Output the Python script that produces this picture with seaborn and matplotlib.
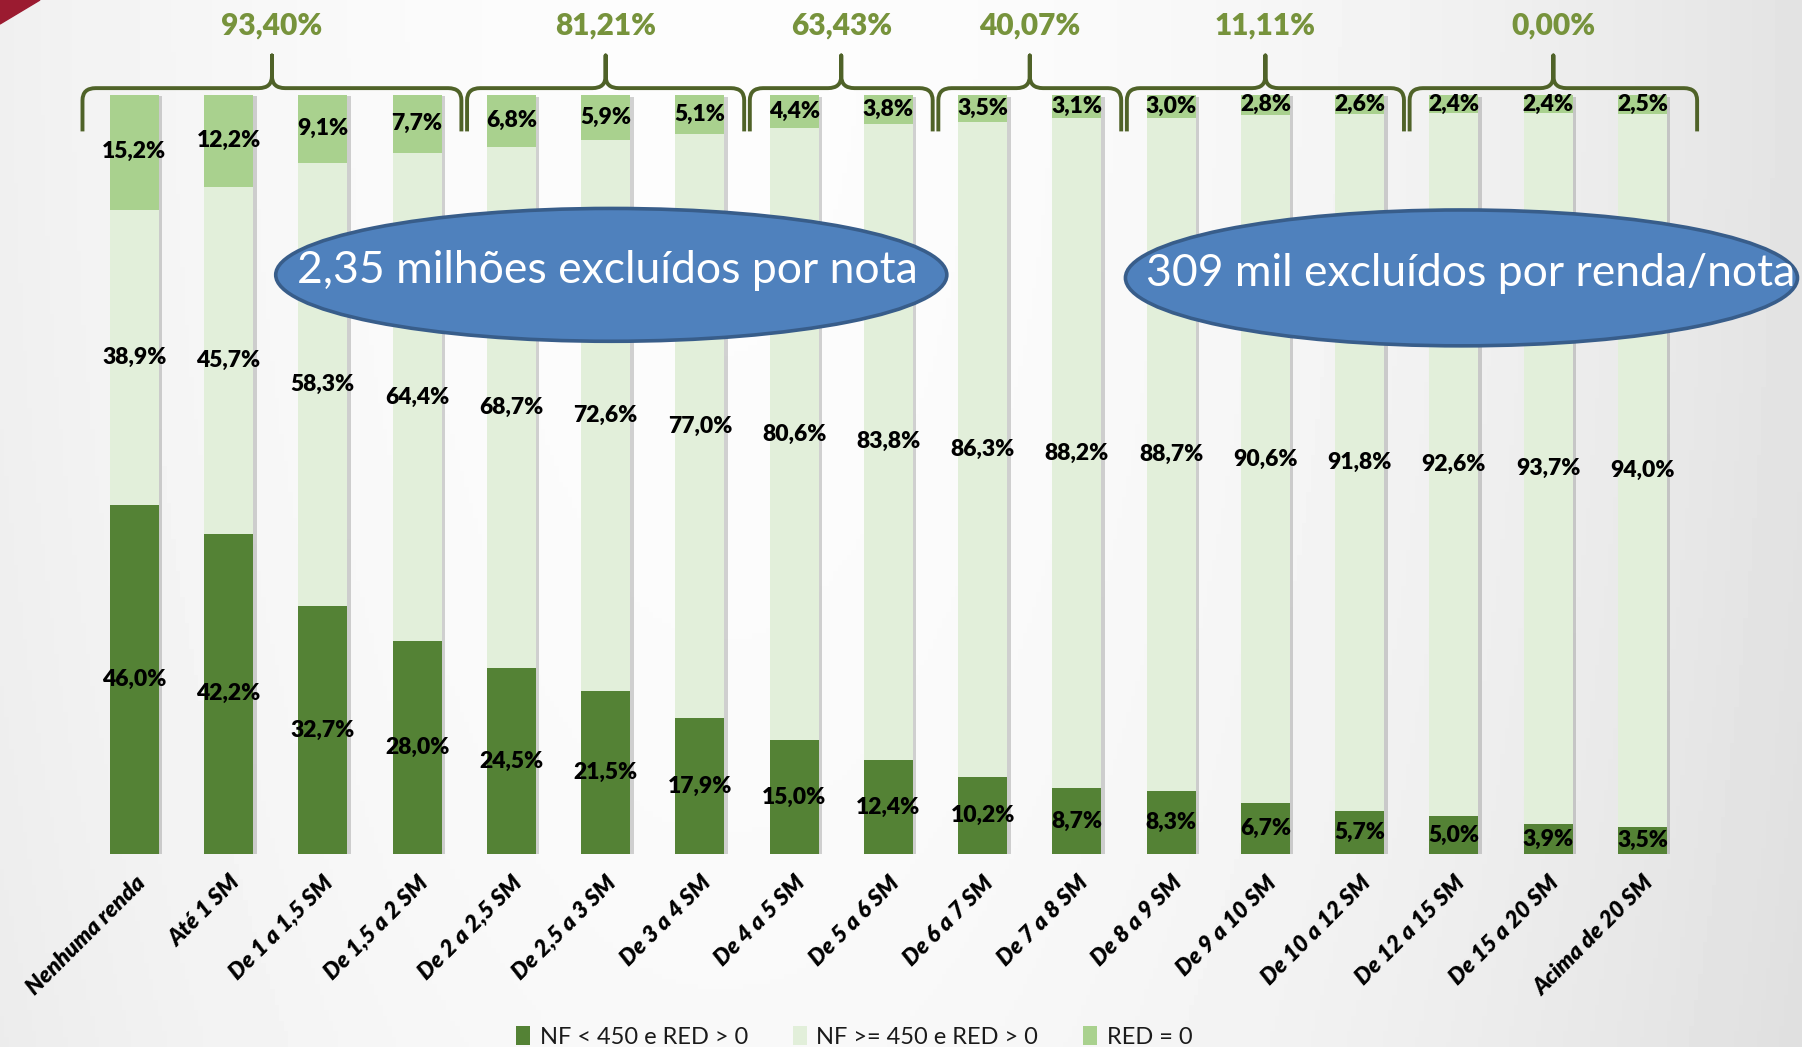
import numpy as np
import matplotlib
matplotlib.use("Agg")
import matplotlib.pyplot as plt
import matplotlib.patheffects as pe
from matplotlib.path import Path
from matplotlib.patches import PathPatch, Ellipse, Patch, Polygon
import seaborn as sns

categories = ["Nenhuma renda", "Até 1 SM", "De 1 a 1,5 SM", "De 1,5 a 2 SM", "De 2 a 2,5 SM",
              "De 2,5 a 3 SM", "De 3 a 4 SM", "De 4 a 5 SM", "De 5 a 6 SM", "De 6 a 7 SM",
              "De 7 a 8 SM", "De 8 a 9 SM", "De 9 a 10 SM", "De 10 a 12 SM", "De 12 a 15 SM",
              "De 15 a 20 SM", "Acima de 20 SM"]
nf_low = [46.0, 42.2, 32.7, 28.0, 24.5, 21.5, 17.9, 15.0, 12.4, 10.2, 8.7, 8.3, 6.7, 5.7, 5.0, 3.9, 3.5]
nf_high = [38.9, 45.7, 58.3, 64.4, 68.7, 72.6, 77.0, 80.6, 83.8, 86.3, 88.2, 88.7, 90.6, 91.8, 92.6, 93.7, 94.0]
red_zero = [15.2, 12.2, 9.1, 7.7, 6.8, 5.9, 5.1, 4.4, 3.8, 3.5, 3.1, 3.0, 2.8, 2.6, 2.4, 2.4, 2.5]
series_names = ["NF < 450 e RED > 0", "NF >= 450 e RED > 0", "RED = 0"]

# brace groups (first and last bar index) and their totals
group_first = [0, 4, 7, 9, 11, 14]
group_last = [3, 6, 8, 10, 13, 16]
group_labels = ["93,40%", "81,21%", "63,43%", "40,07%", "11,11%", "0,00%"]

callouts = ["2,35 milhões excluídos por nota", "309 mil excluídos por renda/nota"]

C_DARK = "#548235"
C_LIGHT = "#e2efda"
C_MID = "#a9d18e"
C_BRACE = "#4f6228"
C_BRACE_TXT = "#77933c"
FONT = ["Lato", "DejaVu Sans"]

sns.set_theme(style="white")
plt.rcParams["font.family"] = FONT

fig = plt.figure(figsize=(18.02, 10.47), dpi=100)

# slide background
bg = fig.add_axes([0, 0, 1, 1], zorder=-10)
gx = np.linspace(0, 1, 400)
gy = np.linspace(0, 1, 200)
X, Y = np.meshgrid(gx, gy)
shade = 0.99 - np.where(X > 0.4, 0.1 * ((X - 0.4) / 0.6) ** 2, 0.05 * ((0.4 - X) / 0.4) ** 2)
shade = shade - 0.015 * (Y ** 2)
bg.imshow(shade, cmap="gray", vmin=0, vmax=1, aspect="auto", extent=[0, 1, 0, 1])
bg.add_patch(Polygon([[0, 1], [40 / 1802, 1], [0, 1 - 24 / 1047]], closed=True,
                     color="#9b1b30", transform=bg.transAxes))
bg.set_xlim(0, 1)
bg.set_ylim(0, 1)
bg.axis("off")

ax = fig.add_axes([0.0327, 0.1843, 0.9206, 0.725])
ax.patch.set_alpha(0)

low = np.array(nf_low)
high = np.array(nf_high)
top = np.array(red_zero)
cum_mid = low + high
cum_top = cum_mid + top

sns.barplot(x=categories, y=cum_top, color=C_MID, width=0.52, saturation=1,
            errorbar=None, ax=ax, linewidth=0)
for p in ax.patches:
    p.set_path_effects([pe.SimplePatchShadow(offset=(2.5, -1.5), shadow_rgbFace="#7f7f7f", alpha=0.35),
                        pe.Normal()])
sns.barplot(x=categories, y=cum_mid, color=C_LIGHT, width=0.52, saturation=1,
            errorbar=None, ax=ax, linewidth=0)
sns.barplot(x=categories, y=low, color=C_DARK, width=0.52, saturation=1,
            errorbar=None, ax=ax, linewidth=0)


def pct(v):
    return f"{v:.1f}".replace(".", ",") + "%"


lbl_kw = dict(ha="center", va="center", fontsize=16.5, fontweight="heavy", color="black", zorder=5)
for i in range(len(categories)):
    ax.text(i, low[i] / 2, pct(low[i]), **lbl_kw)
    ax.text(i, low[i] + high[i] / 2, pct(high[i]), **lbl_kw)
    ax.text(i, cum_mid[i] + top[i] / 2, pct(top[i]), **lbl_kw)

ax.set_xlim(-0.8, 16.8)
ax.set_ylim(0, 100)
ax.set_xlabel("")
ax.set_ylabel("")
ax.set_yticks([])
sns.despine(ax=ax, left=True, bottom=True)
ax.tick_params(axis="x", length=0, pad=13)
ax.set_xticks(range(len(categories)))
ax.set_xticklabels(categories, rotation=45, ha="right", va="top", rotation_mode="anchor",
                   fontsize=16.5, fontstyle="italic", fontweight="heavy", color="black")

# braces over groups
y_h, y_end, y_tip, y_lbl = 100.9, 95.2, 105.2, 109.2
rx, ry = 0.14, 1.6
for g, (a, b) in enumerate(zip(group_first, group_last)):
    x0 = a - 0.5 + 0.03 if a > 0 else -0.55
    x1 = b + 0.5 - 0.03 if b < len(categories) - 1 else 16.58
    xc = (x0 + x1) / 2
    verts = [(x0, y_end), (x0, y_h - ry), (x0, y_h), (x0 + rx, y_h),
             (xc - rx, y_h), (xc, y_h), (xc, y_h + ry), (xc, y_tip),
             (xc, y_h + ry), (xc, y_h), (xc + rx, y_h),
             (x1 - rx, y_h), (x1, y_h), (x1, y_h - ry), (x1, y_end)]
    codes = [Path.MOVETO, Path.LINETO, Path.CURVE3, Path.CURVE3,
             Path.LINETO, Path.CURVE3, Path.CURVE3, Path.LINETO,
             Path.LINETO, Path.CURVE3, Path.CURVE3,
             Path.LINETO, Path.CURVE3, Path.CURVE3, Path.LINETO]
    ax.add_patch(PathPatch(Path(verts, codes), facecolor="none", edgecolor=C_BRACE,
                           linewidth=2.8, clip_on=False, capstyle="butt", joinstyle="round"))
    ax.text(xc, y_lbl, group_labels[g], ha="center", va="center", fontsize=21.5,
            fontweight="heavy", color=C_BRACE_TXT, clip_on=False)

# callout ellipses
for (cx, cy, w, h, tx), txt in zip([(5.06, 76.3, 7.12, 17.5, 5.02), (14.08, 75.9, 7.13, 17.9, 14.18)], callouts):
    ax.add_patch(Ellipse((cx, cy), w, h, facecolor="#4f81bd", edgecolor="#385d8a",
                         linewidth=2.6, zorder=8, clip_on=False))
    ax.text(tx, cy + 0.6, txt, ha="center", va="center", fontsize=32, fontweight="normal",
            color="white", zorder=9, clip_on=False)

handles = [Patch(facecolor=c, edgecolor="none") for c in [C_DARK, C_LIGHT, C_MID]]
fig.legend(handles, series_names, loc="lower center", bbox_to_anchor=(0.474, -0.021),
           ncol=3, frameon=False, fontsize=17, handlelength=0.6, handleheight=0.85,
           handletextpad=0.4, columnspacing=1.9, labelcolor="#1a1a1a")

fig.savefig("out.png", dpi=100)
plt.close(fig)
